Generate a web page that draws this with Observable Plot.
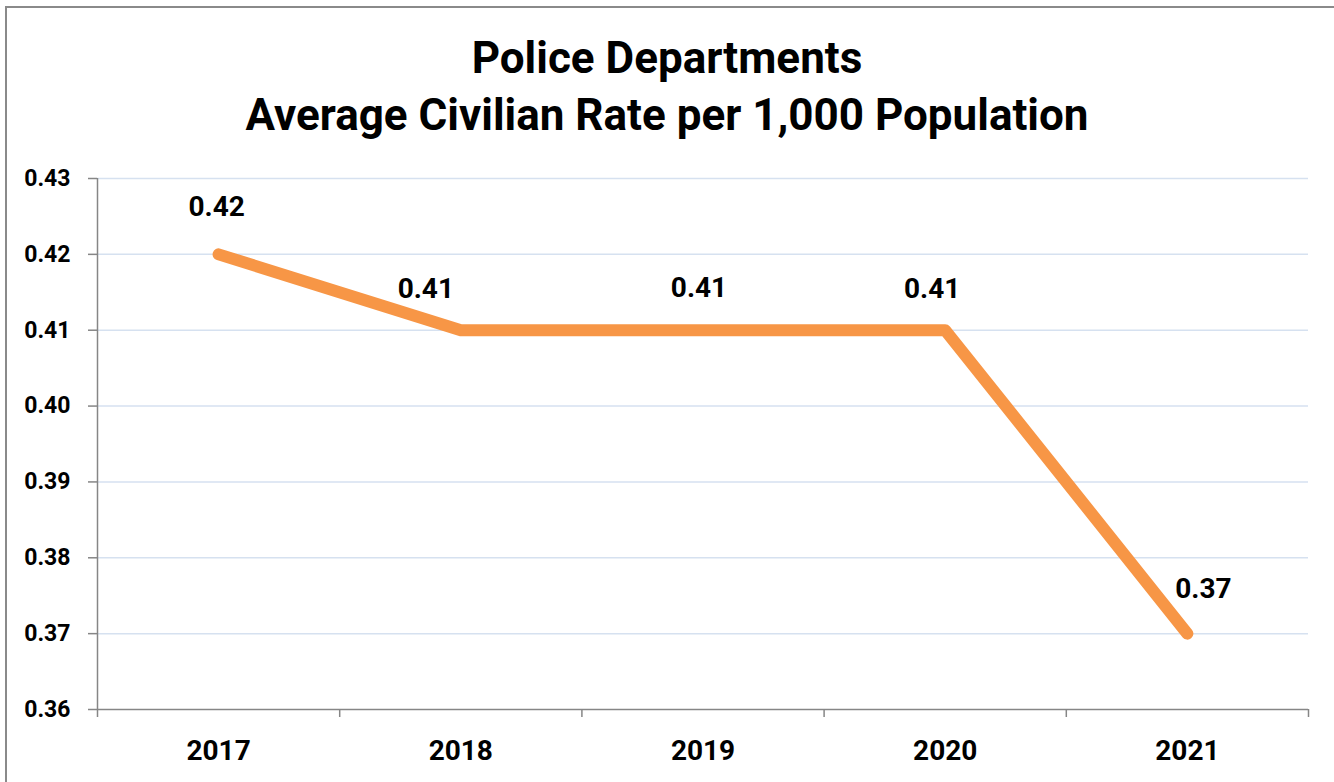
<!DOCTYPE html>
<html>
<head>
<meta charset="utf-8">
<script src="https://cdn.jsdelivr.net/npm/d3@7"></script>
<script src="https://cdn.jsdelivr.net/npm/@observablehq/plot@0.6"></script>
<style>
  html, body { margin: 0; padding: 0; background: #fff; overflow: hidden; }
  body { width: 1334px; height: 782px; position: relative; font-family: Roboto, "Open Sans", sans-serif; }
  #frame { position: absolute; left: 5px; top: 6px; width: 1400px; height: 900px;
           border-left: 2px solid #8a8a8a; border-top: 2px solid #8a8a8a; }
  #title { position: absolute; left: 0; top: 0; width: 1334px; height: 150px; text-align: center;
           font-weight: bold; color: #000; font-size: 44px; }
  #title div { position: absolute; left: 0; width: 100%; line-height: 1; }
  #chart { position: absolute; left: 0; top: 150px; }
</style>
</head>
<body>
<div id="frame"></div>
<div id="title">
  <div id="t1" style="top:36px">Police Departments</div>
  <div id="t2" style="top:93px">Average Civilian Rate per 1,000 Population</div>
</div>
<div id="chart"></div>
<script>
const years = ["2017", "2018", "2019", "2020", "2021"];
const rates = [0.42, 0.41, 0.41, 0.41, 0.37];
const yTicks = [0.36, 0.37, 0.38, 0.39, 0.40, 0.41, 0.42, 0.43];
const gridTicks = [0.37, 0.38, 0.39, 0.40, 0.41, 0.42, 0.43];
const yearIndex = [0, 1, 2, 3, 4];
const boundaries = [-0.5, 0.5, 1.5, 2.5, 3.5, 4.5];

const data = years.map((year, i) => ({i, year, rate: rates[i]}));
const gray = "#868686";

// label nudges (as placed in the original chart)
const nudges = [[-2, -47], [-35, -41], [-4, -42], [-13, -41], [16, -45]];

const plot = Plot.plot({
  width: 1334,
  height: 632,
  marginLeft: 97,
  marginRight: 26,
  marginTop: 28,
  marginBottom: 73,
  style: {fontFamily: "Roboto, sans-serif", background: "transparent", overflow: "visible"},
  x: {type: "linear", domain: [-0.5, 4.5]},
  y: {domain: [0.36, 0.43]},
  marks: [
    Plot.ruleY(gridTicks, {y: d => d, stroke: "#d6e1f0", strokeWidth: 1.5}),
    Plot.ruleX([-0.5], {x: d => d, y1: 0.36, y2: 0.43, stroke: gray, strokeWidth: 1.5}),
    Plot.ruleY([0.36], {y: d => d, stroke: gray, strokeWidth: 1.5}),
    Plot.axisY({ticks: yTicks, tickFormat: d3.format(".2f"), tickSize: 9, tickPadding: 18,
      stroke: gray, strokeWidth: 1.5, fontSize: 23, fontWeight: "bold", fill: "#000", label: null}),
    Plot.axisX({ticks: boundaries, tickSize: 8, tickFormat: () => "", stroke: gray, strokeWidth: 1.5, label: null}),
    Plot.axisX({ticks: yearIndex, tickSize: 0, tickPadding: 31, tickFormat: i => years[i],
      fontSize: 28, fontWeight: "bold", fill: "#000", label: null}),
    Plot.line(data, {x: "i", y: "rate", stroke: "#f79646", strokeWidth: 12,
      strokeLinecap: "round", strokeLinejoin: "round"}),
    ...data.map((d, k) => Plot.text([d], {x: "i", y: "rate", text: d => d3.format(".2f")(d.rate),
      dx: nudges[k][0], dy: nudges[k][1], fontSize: 28, fontWeight: "bold", fill: "#000"}))
  ]
});
document.getElementById("chart").appendChild(plot);
</script>
</body>
</html>
